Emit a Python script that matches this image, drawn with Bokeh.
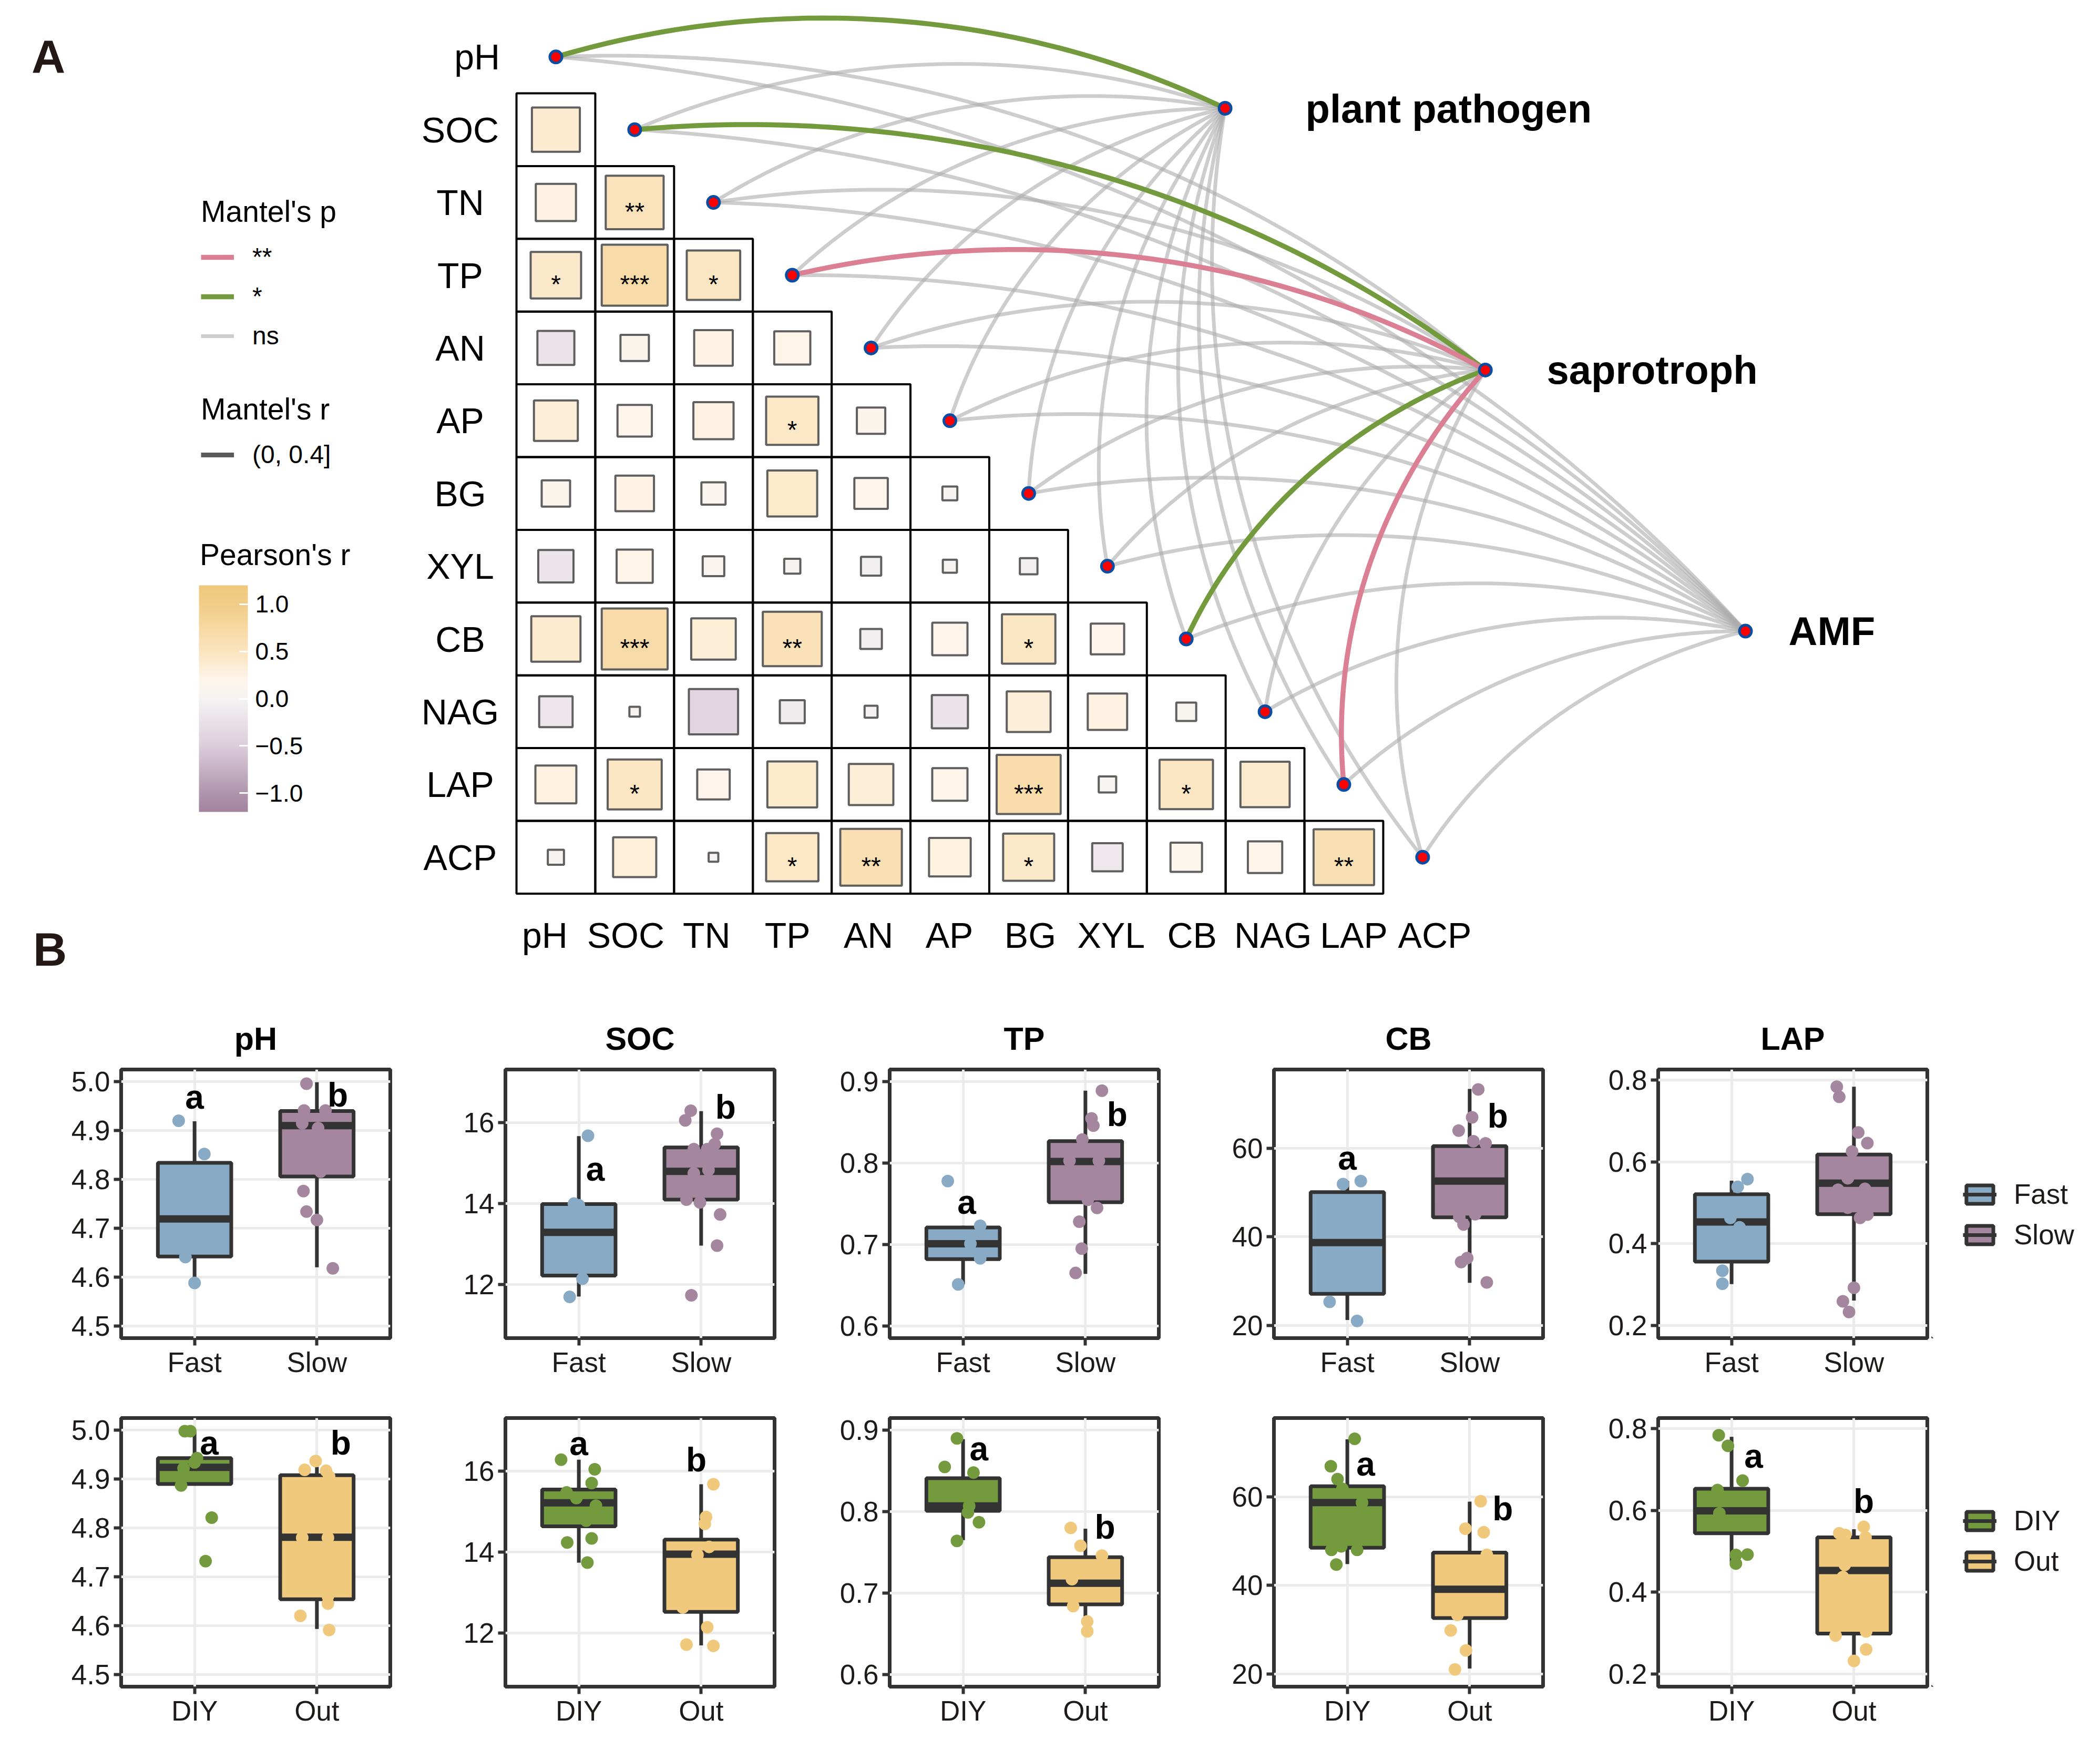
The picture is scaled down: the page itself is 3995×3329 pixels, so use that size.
import numpy as np
from bokeh.plotting import figure
from bokeh.models import (ColumnDataSource, Range1d, FixedTicker, Legend, LegendItem,
                          ColorBar, LinearColorMapper, Spacer, PrintfTickFormatter)
from bokeh.layouts import column, row
from bokeh.embed import file_html
from bokeh.resources import INLINE
from bokeh.core.properties import value

FONT = "Liberation Sans"

# ===================== DATA : panel A =====================
env_vars = ["pH", "SOC", "TN", "TP", "AN", "AP", "BG", "XYL", "CB", "NAG", "LAP", "ACP"]
# Pearson's r (lower triangle): row k holds r of env_vars[k] with env_vars[0..k-1]
r_SOC = [0.37]
r_TN = [0.26, 0.54]
r_TP = [0.41, 0.70, 0.46]
r_AN = [-0.22, 0.13, 0.24, 0.21]
r_AP = [0.31, 0.19, 0.26, 0.44, 0.13]
r_BG = [0.13, 0.24, 0.094, 0.40, 0.18, 0.036]
r_XYL = [-0.20, 0.21, 0.075, 0.042, -0.066, 0.032, -0.05]
r_CB = [0.39, 0.70, 0.32, 0.56, -0.075, 0.20, 0.46, 0.18]
r_NAG = [-0.18, 0.018, -0.39, -0.10, -0.027, -0.21, 0.31, 0.25, 0.064]
r_LAP = [0.27, 0.47, 0.17, 0.40, 0.32, 0.20, 0.66, 0.049, 0.46, 0.39]
r_ACP = [0.042, 0.30, 0.015, 0.44, 0.61, 0.28, 0.42, -0.15, 0.16, 0.19, 0.59]
sig_SOC = [""]
sig_TN = ["", "**"]
sig_TP = ["*", "***", "*"]
sig_AN = ["", "", "", ""]
sig_AP = ["", "", "", "*", ""]
sig_BG = ["", "", "", "", "", ""]
sig_XYL = ["", "", "", "", "", "", ""]
sig_CB = ["", "***", "", "**", "", "", "*", ""]
sig_NAG = ["", "", "", "", "", "", "", "", ""]
sig_LAP = ["", "*", "", "", "", "", "***", "", "*", ""]
sig_ACP = ["", "", "", "*", "**", "", "*", "", "", "", "**"]
r_rows = [r_SOC, r_TN, r_TP, r_AN, r_AP, r_BG, r_XYL, r_CB, r_NAG, r_LAP, r_ACP]
sig_rows = [sig_SOC, sig_TN, sig_TP, sig_AN, sig_AP, sig_BG, sig_XYL, sig_CB, sig_NAG, sig_LAP, sig_ACP]

spec_groups = ["plant pathogen", "saprotroph", "AMF"]
mantel_p_plant_pathogen = ["*", "ns", "ns", "ns", "ns", "ns", "ns", "ns", "ns", "ns", "ns", "ns"]
mantel_p_saprotroph = ["ns", "*", "ns", "**", "ns", "ns", "ns", "ns", "*", "ns", "**", "ns"]
mantel_p_AMF = ["ns", "ns", "ns", "ns", "ns", "ns", "ns", "ns", "ns", "ns", "ns", "ns"]
mantel_p_levels = ["**", "*", "ns"]
mantel_r_level = "(0, 0.4]"
colorbar_ticks = [-1.0, -0.5, 0.0, 0.5, 1.0]

# ===================== DATA : panel B =====================
speed_groups = ["Fast", "Slow"]
source_groups = ["DIY", "Out"]
panel_vars = ["pH", "SOC", "TP", "CB", "LAP"]
# box statistics: [lower whisker, Q1, median, Q3, upper whisker] per group
box_speed_pH = [[4.585, 4.642, 4.719, 4.834, 4.919], [4.620, 4.806, 4.910, 4.940, 4.999]]
box_speed_SOC = [[11.70, 12.22, 13.29, 13.99, 15.67], [12.96, 14.10, 14.80, 15.39, 16.29]]
box_speed_TP = [[0.651, 0.682, 0.701, 0.721, 0.723], [0.664, 0.752, 0.802, 0.827, 0.889]]
box_speed_CB = [[21.2, 27.1, 38.7, 50.1, 52.6], [29.6, 44.4, 52.6, 60.5, 73.4]]
box_speed_LAP = [[0.301, 0.356, 0.453, 0.521, 0.554], [0.261, 0.472, 0.548, 0.618, 0.784]]
box_source_pH = [[4.887, 4.890, 4.924, 4.943, 4.996], [4.593, 4.654, 4.781, 4.908, 4.925]]
box_source_SOC = [[13.74, 14.64, 15.22, 15.55, 16.29], [11.69, 12.52, 13.95, 14.31, 15.68]]
box_source_TP = [[0.765, 0.801, 0.807, 0.841, 0.889], [0.653, 0.686, 0.712, 0.744, 0.779]]
box_source_CB = [[44.8, 48.5, 58.7, 62.4, 73.0], [21.2, 32.6, 39.1, 47.4, 58.9]]
box_source_LAP = [[0.473, 0.544, 0.599, 0.653, 0.780], [0.246, 0.299, 0.453, 0.534, 0.554]]

# jittered samples: (group index, jitter, value)
pts_speed_pH = [(0, -0.13, 4.920), (0, 0.08, 4.852), (0, -0.075, 4.641), (0, 0.0, 4.588),
                (1, -0.085, 4.996), (1, -0.105, 4.941), (1, 0.07, 4.941), (1, -0.12, 4.915),
                (1, 0.01, 4.905), (1, 0.03, 4.816), (1, -0.11, 4.776), (1, -0.085, 4.734),
                (1, 0.0, 4.717), (1, 0.13, 4.618)]
pts_speed_SOC = [(0, 0.075, 15.68), (0, -0.04, 14.00), (0, 0.0, 13.96), (0, 0.03, 12.14), (0, -0.075, 11.69),
                 (1, -0.085, 16.30), (1, -0.13, 16.06), (1, 0.13, 15.73), (1, 0.11, 15.47), (1, -0.06, 15.35),
                 (1, 0.05, 15.35), (1, 0.06, 14.83), (1, -0.06, 14.75), (1, -0.12, 14.10), (1, -0.01, 14.03),
                 (1, 0.155, 13.73), (1, 0.13, 12.96), (1, -0.08, 11.73)]
pts_speed_TP = [(0, -0.125, 0.778), (0, 0.14, 0.723), (0, 0.06, 0.701), (0, 0.14, 0.683), (0, -0.04, 0.651),
                (1, 0.135, 0.889), (1, 0.05, 0.855), (1, 0.065, 0.846), (1, -0.025, 0.829), (1, -0.13, 0.803),
                (1, 0.11, 0.803), (1, 0.02, 0.755), (1, 0.095, 0.745), (1, -0.05, 0.728), (1, -0.03, 0.695),
                (1, -0.08, 0.665)]
pts_speed_CB = [(0, -0.035, 51.9), (0, 0.11, 52.6), (0, -0.145, 25.3), (0, 0.08, 21.0),
                (1, 0.07, 73.3), (1, 0.02, 67.0), (1, -0.09, 64.0), (1, 0.03, 61.6), (1, 0.13, 61.1),
                (1, -0.085, 44.5), (1, 0.045, 45.1), (1, -0.05, 42.8), (1, -0.02, 35.2), (1, -0.07, 34.3),
                (1, 0.14, 29.7)]
pts_speed_LAP = [(0, 0.05, 0.539), (0, 0.13, 0.558), (0, -0.01, 0.463), (0, 0.065, 0.44), (0, -0.075, 0.334),
                 (0, -0.075, 0.302),
                 (1, -0.14, 0.784), (1, -0.12, 0.759), (1, 0.035, 0.672), (1, 0.11, 0.646), (1, -0.015, 0.625),
                 (1, -0.05, 0.56), (1, -0.13, 0.532), (1, 0.09, 0.534), (1, -0.05, 0.488), (1, 0.05, 0.463),
                 (1, 0.11, 0.471), (1, 0.0, 0.292), (1, -0.09, 0.259), (1, -0.04, 0.233)]
pts_source_pH = [(0, -0.08, 4.998), (0, -0.035, 4.998), (0, 0.02, 4.943), (0, 0.0, 4.934), (0, -0.09, 4.922),
                 (0, -0.11, 4.887), (0, 0.14, 4.821), (0, 0.09, 4.732),
                 (1, -0.01, 4.937), (1, -0.1, 4.919), (1, 0.075, 4.917), (1, 0.1, 4.905), (1, -0.12, 4.780),
                 (1, 0.09, 4.780), (1, 0.09, 4.660), (1, 0.09, 4.645), (1, -0.135, 4.620), (1, 0.1, 4.591)]
pts_source_SOC = [(0, -0.145, 16.29), (0, 0.13, 16.05), (0, 0.105, 15.71), (0, -0.1, 15.48), (0, -0.02, 15.34),
                  (0, 0.14, 15.15), (0, 0.06, 14.78), (0, 0.105, 14.34), (0, -0.095, 14.24), (0, 0.07, 13.74),
                  (1, 0.1, 15.68), (1, 0.04, 14.87), (1, 0.03, 14.70), (1, 0.065, 14.13), (1, -0.03, 13.93),
                  (1, -0.15, 12.63), (1, 0.05, 12.14), (1, -0.12, 11.71), (1, 0.1, 11.68)]
pts_source_TP = [(0, -0.05, 0.890), (0, -0.15, 0.855), (0, 0.085, 0.848), (0, 0.05, 0.807), (0, 0.04, 0.799),
                 (0, 0.13, 0.787), (0, -0.05, 0.764),
                 (1, -0.12, 0.780), (1, -0.04, 0.758), (1, 0.135, 0.746), (1, -0.11, 0.717), (1, -0.1, 0.684),
                 (1, 0.015, 0.665), (1, 0.015, 0.653)]
pts_source_CB = [(0, 0.06, 73.1), (0, -0.135, 66.9), (0, -0.08, 64.0), (0, -0.04, 61.8), (0, 0.12, 58.7),
                 (0, -0.05, 48.8), (0, -0.13, 48.0), (0, 0.08, 48.0), (0, -0.09, 44.7),
                 (1, 0.09, 59.0), (1, -0.035, 52.8), (1, 0.115, 52.0), (1, 0.14, 46.9), (1, -0.1, 33.3),
                 (1, -0.155, 29.8), (1, -0.03, 25.3), (1, -0.12, 21.0)]
pts_source_LAP = [(0, -0.105, 0.784), (0, -0.03, 0.758), (0, 0.09, 0.673), (0, -0.115, 0.650), (0, -0.1, 0.593),
                  (0, 0.08, 0.573), (0, 0.035, 0.491), (0, 0.13, 0.492), (0, 0.035, 0.470),
                  (1, 0.08, 0.560), (1, -0.12, 0.544), (1, -0.07, 0.540), (1, 0.095, 0.534), (1, -0.075, 0.467),
                  (1, -0.09, 0.437), (1, -0.15, 0.294), (1, 0.1, 0.304), (1, 0.1, 0.260), (1, 0.0, 0.232)]

# significance letters: (group index, x shift, y, letter)
let_speed_pH = [(0, 0.0, 4.968, "a"), (1, 0.17, 4.973, "b")]
let_speed_SOC = [(0, 0.135, 14.86, "a"), (1, 0.2, 16.39, "b")]
let_speed_TP = [(0, 0.03, 0.752, "a"), (1, 0.26, 0.860, "b")]
let_speed_CB = [(0, 0.0, 57.8, "a"), (1, 0.23, 67.3, "b")]
let_speed_LAP = []
let_source_pH = [(0, 0.12, 4.974, "a"), (1, 0.195, 4.974, "b")]
let_source_SOC = [(0, 0.0, 16.69, "a"), (1, -0.04, 16.29, "b")]
let_source_TP = [(0, 0.13, 0.877, "a"), (1, 0.16, 0.781, "b")]
let_source_CB = [(0, 0.15, 67.4, "a"), (1, 0.27, 57.3, "b")]
let_source_LAP = [(0, 0.18, 0.733, "a"), (1, 0.08, 0.622, "b")]

# y axis ranges / ticks per variable
yaxis_cfg = {
    "pH": ((4.475, 5.025), [4.5, 4.6, 4.7, 4.8, 4.9, 5.0], "%.1f"),
    "SOC": ((10.67, 17.32), [12, 14, 16], "%d"),
    "TP": ((0.585, 0.915), [0.6, 0.7, 0.8, 0.9], "%.1f"),
    "CB": ((17.1, 77.8), [20, 40, 60], "%d"),
    "LAP": ((0.169, 0.826), [0.2, 0.4, 0.6, 0.8], "%.1f"),
}

# ===================== STYLE / LAYOUT =====================
C_FAST, C_SLOW, C_DIY, C_OUT = "#88AAC5", "#A5869F", "#739A3C", "#F0C97D"
C_PINK, C_GREEN, C_GREY = "#DB8094", "#739A3C", "#ABABAB"
DARK = "#333333"
TXT = "#1f1a1a"

W = 3979
HA = 1914
CW, RH = 149.9, 138.4          # pixel size of one heat-map cell
OX, OY = 1065 - 8, 115.8 - 8   # pixel position of cell (0,0) inside panel A
spec_node_x = [8.493, 11.796, 15.097]
spec_node_y = [0.706, 4.304, 7.892]
spec_label_x = [9.513, 12.575, 15.644]
SAG = 0.10


def make_palette(stops, n=256):
    vals = np.array([s[0] for s in stops])
    cols = np.array([[int(s[1][i:i + 2], 16) for i in (1, 3, 5)] for s in stops], float)
    out = []
    for x in np.linspace(vals[0], vals[-1], n):
        rgb = [np.interp(x, vals, cols[:, k]) for k in range(3)]
        out.append("#%02x%02x%02x" % tuple(int(round(c)) for c in rgb))
    return out


palette = make_palette([(-1.2, "#A3829E"), (-1.0, "#B096AD"), (-0.5, "#DCCEDB"), (0.0, "#F5F3F3"),
                        (0.2, "#FEF5EA"), (0.5, "#FBE4BE"), (1.0, "#F2CD88"), (1.2, "#F0C87D")])
mapper = LinearColorMapper(palette=palette, low=-1.2, high=1.2)

# ===================== PANEL A =====================
pA = figure(width=W, height=HA, output_backend="svg", toolbar_location=None,
            x_range=Range1d(-OX / CW, (W - OX) / CW), y_range=Range1d((HA - OY) / RH, -OY / RH),
            x_axis_location=None, y_axis_location=None, min_border=0,
            outline_line_color=None, background_fill_color="white", border_fill_color="white")
pA.grid.visible = False

cx, cy, cr, cs = [], [], [], []
for i, (rr, ss) in enumerate(zip(r_rows, sig_rows), start=1):
    for j, (rv, sv) in enumerate(zip(rr, ss)):
        cx.append(j); cy.append(i); cr.append(rv); cs.append(sv)
cells = ColumnDataSource(dict(x=cx, y=cy, r=cr, sig=cs, side=list(np.sqrt(np.abs(cr)))))
pA.rect("x", "y", width=1, height=1, source=cells, fill_color=None, line_color="black", line_width=4)
pA.rect("x", "y", width="side", height="side", source=cells,
        fill_color={"field": "r", "transform": mapper}, line_color="#5f5f5f", line_width=4)
pA.text("x", "y", text="sig", source=cells, text_align="center", text_baseline="middle",
        text_font=value(FONT), text_font_size="48px", text_color="black", y_offset=17)


def arc(x0, y0, x1, y1, sag=SAG, n=90):
    # circular arc in data space, bulging to the left of the travel direction
    P0 = np.array([x0, y0], float); P1 = np.array([x1, y1], float)
    d = P1 - P0
    L = np.hypot(d[0], d[1])
    nrm = np.array([d[1], -d[0]]) / L
    h = sag * L
    R = (L * L / 4 + h * h) / (2 * h)
    C = (P0 + P1) / 2 + nrm * (h - R)
    a0 = np.arctan2(P0[1] - C[1], P0[0] - C[0])
    a1 = np.arctan2(P1[1] - C[1], P1[0] - C[0])
    da = (a1 - a0 + np.pi) % (2 * np.pi) - np.pi
    ang = a0 + da * np.linspace(0, 1, n)
    return list(C[0] + R * np.cos(ang)), list(C[1] + R * np.sin(ang))


curves = {lvl: ([], []) for lvl in mantel_p_levels}
for s, plist in enumerate([mantel_p_plant_pathogen, mantel_p_saprotroph, mantel_p_AMF]):
    for k, lvl in enumerate(plist):
        xs, ys = arc(k, k, spec_node_x[s], spec_node_y[s])
        curves[lvl][0].append(xs); curves[lvl][1].append(ys)

r_grey = pA.multi_line(curves["ns"][0], curves["ns"][1], line_color=C_GREY, line_width=7, line_alpha=0.6)
r_green = pA.multi_line(curves["*"][0], curves["*"][1], line_color=C_GREEN, line_width=9.5)
r_pink = pA.multi_line(curves["**"][0], curves["**"][1], line_color=C_PINK, line_width=9.5)
# key-only renderer for the Mantel's r size class (drawn outside the visible range)
r_size = pA.line(x=[-60, -59], y=[-60, -60], line_color="#595959", line_width=9)

nodes = ColumnDataSource(dict(x=list(range(len(env_vars))) + spec_node_x,
                              y=list(range(len(env_vars))) + spec_node_y))
pA.scatter("x", "y", source=nodes, size=23, fill_color="#FF0000", line_color="#0A4DA2", line_width=5)

# axis-like labels of the correlation matrix
left_lab = ColumnDataSource(dict(x=[-1.0] + [-1.214] * (len(env_vars) - 1),
                                 y=list(range(len(env_vars))), t=env_vars))
pA.text("x", "y", text="t", source=left_lab, text_align="center", text_baseline="middle",
        text_font=value(FONT), text_font_size="68px", text_color="black")
bot_lab = ColumnDataSource(dict(x=[-0.14 + 1.0267 * k for k in range(len(env_vars))],
                                y=[12.07] * len(env_vars), t=env_vars))
pA.text("x", "y", text="t", source=bot_lab, text_align="center", text_baseline="middle",
        text_font=value(FONT), text_font_size="68px", text_color="black")
spec_lab = ColumnDataSource(dict(x=spec_label_x, y=spec_node_y, t=spec_groups))
pA.text("x", "y", text="t", source=spec_lab, text_align="left", text_baseline="middle",
        text_font=value(FONT), text_font_size="76px", text_font_style="bold", text_color="black")
tag_lab = ColumnDataSource(dict(x=[-6.44, -6.42], y=[0.0, 12.27], t=["A", "B"]))
pA.text("x", "y", text="t", source=tag_lab, text_align="center", text_baseline="middle",
        text_font=value(FONT), text_font_size="89px", text_font_style="bold", text_color="#231815")
cb_title = ColumnDataSource(dict(x=[-4.52], y=[6.84], t=["Pearson's r"]))
pA.text("x", "y", text="t", source=cb_title, text_align="left", text_baseline="middle",
        text_font=value(FONT), text_font_size="57px", text_color="black")


def style_legend(lg):
    lg.title_text_font = FONT
    lg.title_text_font_size = "57px"
    lg.title_text_font_style = "normal"
    lg.title_text_color = "black"
    lg.title_standoff = 26
    lg.label_text_font = FONT
    lg.label_text_font_size = "48px"
    lg.label_text_color = "black"
    lg.glyph_width = 63
    lg.glyph_height = 50
    lg.label_height = 50
    lg.label_standoff = 35
    lg.spacing = 20
    lg.padding = 0
    lg.margin = 0
    lg.border_line_color = None
    lg.background_fill_alpha = 0


leg_p = Legend(items=[LegendItem(label=mantel_p_levels[0], renderers=[r_pink]),
                      LegendItem(label=mantel_p_levels[1], renderers=[r_green]),
                      LegendItem(label=mantel_p_levels[2], renderers=[r_grey])],
               title="Mantel's p", location=(382, 1248))
style_legend(leg_p)
pA.add_layout(leg_p)
leg_r = Legend(items=[LegendItem(label=mantel_r_level, renderers=[r_size])],
               title="Mantel's r", location=(382, 1022))
style_legend(leg_r)
pA.add_layout(leg_r)

cbar = ColorBar(color_mapper=mapper, location=(378, 370), orientation="vertical",
                width=93, height=431, padding=0, margin=0,
                ticker=FixedTicker(ticks=colorbar_ticks),
                major_label_overrides={t: ("%.1f" % t).replace("-", "\u2212") for t in colorbar_ticks},
                major_label_text_font=FONT, major_label_text_font_size="46px",
                major_label_text_color="black", label_standoff=14,
                major_tick_line_color="white", major_tick_line_width=3, major_tick_in=16, major_tick_out=0,
                minor_tick_line_color=None, bar_line_color=None, border_line_color=None,
                background_fill_alpha=0)
pA.add_layout(cbar)

# ===================== PANEL B =====================
FW, FH = 512, 511
ROW_TOP = {True: 120, False: 42}
ROW_BOT = {True: 110, False: 100}


def box_panel(var, groups, colors, box, pts, letters, first_row, right_border=109):
    yr, ticks, fmt = yaxis_cfg[var]
    p = figure(frame_width=FW, frame_height=FH, x_range=Range1d(0.4, 2.6), y_range=Range1d(*yr),
               output_backend="svg", toolbar_location=None,
               min_border_left=110, min_border_right=right_border,
               min_border_top=ROW_TOP[first_row], min_border_bottom=ROW_BOT[first_row],
               title=(var if first_row else None),
               background_fill_color="white", border_fill_color="white",
               outline_line_color=DARK, outline_line_width=7)
    if first_row:
        p.title.text_font = FONT
        p.title.text_font_size = "61px"
        p.title.text_font_style = "bold"
        p.title.text_color = "black"
        p.title.align = "center"
        p.title.standoff = 50
    p.xaxis.ticker = FixedTicker(ticks=[1, 2])
    p.xaxis.major_label_overrides = {1: groups[0], 2: groups[1]}
    p.yaxis.ticker = FixedTicker(ticks=ticks)
    p.yaxis.formatter = PrintfTickFormatter(format=fmt)
    for ax in (p.xaxis[0], p.yaxis[0]):
        ax.axis_line_color = None
        ax.major_tick_line_color = DARK
        ax.major_tick_line_width = 6
        ax.major_tick_out = 14
        ax.major_tick_in = 0
        ax.minor_tick_line_color = None
        ax.major_label_text_font = FONT
        ax.major_label_text_font_size = "53px"
        ax.major_label_text_color = TXT
    p.xaxis.major_label_standoff = 2
    p.yaxis.major_label_standoff = 7
    p.grid.grid_line_color = "#EBEBEB"
    p.grid.grid_line_width = 5

    xpos = [1, 2]
    bs = ColumnDataSource(dict(x=xpos, xl=[x - 0.3 for x in xpos], xr=[x + 0.3 for x in xpos],
                               lo=[b[0] for b in box], q1=[b[1] for b in box], med=[b[2] for b in box],
                               q3=[b[3] for b in box], hi=[b[4] for b in box], color=colors))
    p.segment("x", "q3", "x", "hi", source=bs, line_color=DARK, line_width=7)
    p.segment("x", "lo", "x", "q1", source=bs, line_color=DARK, line_width=7)
    p.vbar(x="x", top="q3", bottom="q1", width=0.6, source=bs, fill_color="color",
           line_color=DARK, line_width=7)
    p.segment("xl", "med", "xr", "med", source=bs, line_color=DARK, line_width=14)

    ps = ColumnDataSource(dict(x=[xpos[g] + j for g, j, v in pts], y=[v for g, j, v in pts],
                               color=[colors[g] for g, j, v in pts]))
    p.scatter("x", "y", source=ps, size=24, fill_color="color", line_color=None)

    if letters:
        ls = ColumnDataSource(dict(x=[xpos[g] + dx for g, dx, y, t in letters],
                                   y=[y for g, dx, y, t in letters], t=[t for g, dx, y, t in letters]))
        p.text("x", "y", text="t", source=ls, text_align="center", text_baseline="middle",
               text_font=value(FONT), text_font_size="64px", text_font_style="bold", text_color="black")
    return p


LEG_W = 297


def legend_panel(groups, colors, first_row, legend_y):
    h = ROW_TOP[first_row] + FH + ROW_BOT[first_row]
    p = figure(width=LEG_W, height=h, x_range=Range1d(0, 1), y_range=Range1d(0, 1),
               output_backend="svg", toolbar_location=None, x_axis_location=None, y_axis_location=None,
               min_border=0, outline_line_color=None, background_fill_color="white",
               border_fill_color="white")
    p.grid.visible = False
    ks = ColumnDataSource(dict(x=[-5, -5], xl=[-5.3, -5.3], xr=[-4.7, -4.7], q1=[-5, -5], q3=[-4, -4],
                               med=[-4.5, -4.5], color=colors))
    vb = p.vbar(x="x", top="q3", bottom="q1", width=0.6, source=ks, fill_color="color",
                line_color=DARK, line_width=7)
    md = p.segment("xl", "med", "xr", "med", source=ks, line_color=DARK, line_width=7)
    lg = Legend(items=[LegendItem(label=groups[0], renderers=[vb, md], index=0),
                       LegendItem(label=groups[1], renderers=[vb, md], index=1)],
                location=(60, legend_y))
    lg.label_text_font = FONT
    lg.label_text_font_size = "53px"
    lg.label_text_color = TXT
    lg.glyph_width = 64
    lg.glyph_height = 44
    lg.label_height = 44
    lg.label_standoff = 33
    lg.spacing = 16
    lg.padding = 0
    lg.margin = 0
    lg.border_line_color = None
    lg.background_fill_alpha = 0
    p.add_layout(lg)
    return p


speed_box = [box_speed_pH, box_speed_SOC, box_speed_TP, box_speed_CB, box_speed_LAP]
speed_pts = [pts_speed_pH, pts_speed_SOC, pts_speed_TP, pts_speed_CB, pts_speed_LAP]
speed_let = [let_speed_pH, let_speed_SOC, let_speed_TP, let_speed_CB, let_speed_LAP]
source_box = [box_source_pH, box_source_SOC, box_source_TP, box_source_CB, box_source_LAP]
source_pts = [pts_source_pH, pts_source_SOC, pts_source_TP, pts_source_CB, pts_source_LAP]
source_let = [let_source_pH, let_source_SOC, let_source_TP, let_source_CB, let_source_LAP]

row1, row2 = [], []
for k, var in enumerate(panel_vars):
    rb = 8 if k == len(panel_vars) - 1 else 109
    row1.append(box_panel(var, speed_groups, [C_FAST, C_SLOW], speed_box[k], speed_pts[k], speed_let[k],
                          True, rb))
    row2.append(box_panel(var, source_groups, [C_DIY, C_OUT], source_box[k], source_pts[k], source_let[k],
                          False, rb))
row1.append(legend_panel(speed_groups, [C_FAST, C_SLOW], True, 166))
row2.append(legend_panel(source_groups, [C_DIY, C_OUT], False, 208))

layout = column(pA,
                row(Spacer(width=120, height=10), *row1),
                row(Spacer(width=120, height=10), *row2))

open("out.html", "w").write(file_html(layout, INLINE))
